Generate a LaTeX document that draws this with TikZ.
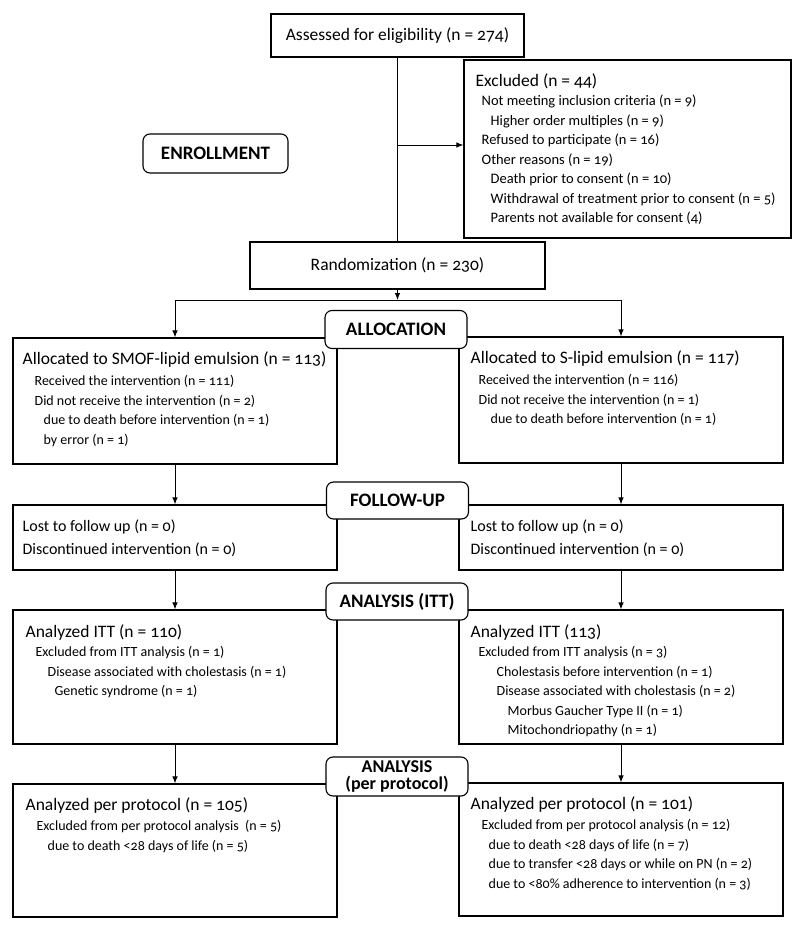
\documentclass[tikz,border=0pt]{standalone}
\usepackage{fontspec}
\setmainfont{Carlito}[Numbers=OldStyle]
\usetikzlibrary{arrows.meta,positioning}
\newcommand{\mainf}{\fontsize{17.5}{19.5}\selectfont}

\begin{document}
\begin{tikzpicture}[x=1pt,y=-1pt,
  box/.style={draw,line width=1.1pt,minimum width=324pt,inner sep=0pt},
  stage/.style={draw,line width=1.1pt,rounded corners=7pt,minimum width=142pt,minimum height=38pt,fill=white,align=center,font=\fontsize{19}{15}\selectfont\bfseries},
  txt/.style={anchor=north west,inner sep=0pt,align=left,font=\fontsize{14}{19.5}\selectfont},
  arr/.style={-{Latex[length=7pt,width=5.5pt]},line width=1pt}]
  \useasboundingbox (0,0) rectangle (800,931);
  % enrollment
  \node[box,minimum width=253pt,minimum height=43pt,font=\mainf] (assess) at (397.5,35.5) {Assessed for eligibility (n = 274)};
  \node[box,minimum width=327pt,minimum height=178pt] (excl) at (627.5,149) {};
  \node[txt,font=\fontsize{14.5}{19.5}\selectfont] (excltxt) at ([xshift=12pt,yshift=-14pt]excl.north west) {{\mainf Excluded (n = 44)}\\
    \hspace*{6pt}Not meeting inclusion criteria (n = 9)\\
    \hspace*{15pt}Higher order multiples (n = 9)\\
    \hspace*{6pt}Refused to participate (n = 16)\\
    \hspace*{6pt}Other reasons (n = 19)\\
    \hspace*{15pt}Death prior to consent (n = 10)\\
    \hspace*{15pt}Withdrawal of treatment prior to consent (n = 5)\\
    \hspace*{15pt}Parents not available for consent (4)};
  \node[stage,minimum width=145pt,minimum height=39pt] (enroll) at (215.5,153.5) {ENROLLMENT};
  \node[box,minimum width=295pt,minimum height=47pt,font=\mainf] (random) at (397.5,265.5) {Randomization (n = 230)};
  \coordinate (branch) at (397.5,145);
  \coordinate (split) at (397.5,300);
  \draw[line width=1pt] (assess.south) -- (random.north);
  \draw[arr] (branch) -- (branch -| excl.west);
  % allocation
  \node[box,minimum height=126pt] (smof) at (175,401) {};
  \node[box,minimum height=126pt] (slip) at (621,400) {};
  \node[txt] (smoftxt) at ([xshift=10pt,yshift=-14pt]smof.north west) {{\mainf Allocated to SMOF-lipid emulsion (n = 113)}\\[2pt]
    \hspace*{12pt}Received the intervention (n = 111)\\
    \hspace*{12pt}Did not receive the intervention (n = 2)\\
    \hspace*{21pt}due to death before intervention (n = 1)\\
    \hspace*{21pt}by error (n = 1)};
  \node[txt] (sliptxt) at ([xshift=12pt,yshift=-14pt]slip.north west) {{\mainf Allocated to S-lipid emulsion (n = 117)}\\[2pt]
    \hspace*{8pt}Received the intervention (n = 116)\\
    \hspace*{8pt}Did not receive the intervention (n = 1)\\
    \hspace*{20pt}due to death before intervention (n = 1)};
  \node[stage] (alloc) at (396,329.5) {ALLOCATION};
  \draw[arr] (random.south) -- (split);
  \draw[arr] (split) -| (smof.north);
  \draw[arr] (split) -| (slip.north);
  % follow-up
  \node[box,minimum height=65pt] (lost1) at (175,537.5) {};
  \node[box,minimum height=65pt] (lost2) at (621,537.5) {};
  \node[txt,font=\fontsize{16}{19.5}\selectfont] (lost1txt) at ([xshift=10pt,yshift=-15pt]lost1.north west) {Lost to follow up (n = 0)\\[3.5pt]Discontinued intervention (n = 0)};
  \node[txt,font=\fontsize{16}{19.5}\selectfont] (lost2txt) at ([xshift=12pt,yshift=-15pt]lost2.north west) {Lost to follow up (n = 0)\\[3.5pt]Discontinued intervention (n = 0)};
  \node[stage,minimum height=37pt] (follow) at (397.5,500.5) {FOLLOW-UP};
  \draw[arr] (smof.south) -- (lost1.north);
  \draw[arr] (slip.south) -- (lost2.north);
  % analysis ITT
  \node[box,minimum height=134pt] (itt1) at (175,677) {};
  \node[box,minimum height=134pt] (itt2) at (621,677) {};
  \node[txt] (itt1txt) at ([xshift=13pt,yshift=-15pt]itt1.north west) {{\mainf Analyzed ITT (n = 110)}\\
    \hspace*{10pt}Excluded from ITT analysis (n = 1)\\
    \hspace*{22pt}Disease associated with cholestasis (n = 1)\\
    \hspace*{29pt}Genetic syndrome (n = 1)};
  \node[txt] (itt2txt) at ([xshift=12pt,yshift=-15pt]itt2.north west) {{\mainf Analyzed ITT (113)}\\
    \hspace*{8pt}Excluded from ITT analysis (n = 3)\\
    \hspace*{26pt}Cholestasis before intervention (n = 1)\\
    \hspace*{26pt}Disease associated with cholestasis (n = 2)\\
    \hspace*{37pt}Morbus Gaucher Type II (n = 1)\\
    \hspace*{37pt}Mitochondriopathy (n = 1)};
  \node[stage,minimum height=37pt] (ittlab) at (397,601.5) {ANALYSIS (ITT)};
  \draw[arr] (lost1.south) -- (itt1.north);
  \draw[arr] (lost2.south) -- (itt2.north);
  % analysis per protocol
  \node[box,minimum height=133pt] (pp1) at (175,850.5) {};
  \node[box,minimum height=133pt] (pp2) at (621,849.5) {};
  \node[txt] (pp1txt) at ([xshift=13pt,yshift=-14pt]pp1.north west) {{\mainf Analyzed per protocol (n = 105)}\\[1pt]
    \hspace*{11pt}Excluded from per protocol analysis~ (n = 5)\\
    \hspace*{22pt}due to death <28 days of life (n = 5)};
  \node[txt] (pp2txt) at ([xshift=12pt,yshift=-14pt]pp2.north west) {{\mainf Analyzed per protocol (n = 101)}\\[1pt]
    \hspace*{11pt}Excluded from per protocol analysis (n = 12)\\
    \hspace*{18pt}due to death <28 days of life (n = 7)\\
    \hspace*{18pt}due to transfer <28 days or while on PN (n = 2)\\
    \hspace*{18pt}due to <80\% adherence to intervention (n = 3)};
  \node[stage,minimum height=39pt,inner sep=2pt,font=\fontsize{18}{16.5}\selectfont\bfseries] (pplab) at (397,776.5) {ANALYSIS\\(per protocol)};
  \draw[arr] (itt1.south) -- (pp1.north);
  \draw[arr] (itt2.south) -- (pp2.north);
\end{tikzpicture}
\end{document}
